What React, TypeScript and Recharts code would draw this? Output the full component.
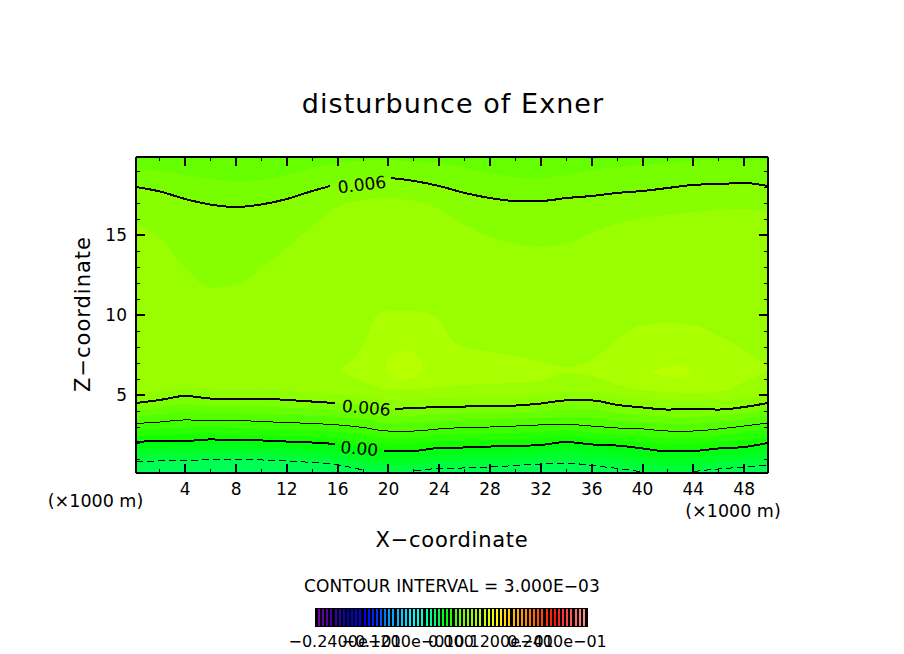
import { Area, Bar, BarChart, Cell, ComposedChart, Line, ReferenceDot, XAxis, YAxis } from "recharts";

const gridX = [0.125, 2, 4, 6, 8, 10, 12, 14, 16, 18, 20, 22, 24, 26, 28, 30, 32, 34, 36, 38, 40, 42, 44, 46, 48, 49.875];
const xTicks = [2, 4, 6, 8, 10, 12, 14, 16, 18, 20, 22, 24, 26, 28, 30, 32, 34, 36, 38, 40, 42, 44, 46, 48];
const yTicks = [1, 2, 3, 4, 5, 6, 7, 8, 9, 10, 11, 12, 13, 14, 15, 16, 17, 18, 19];
const Z_MIN = 0.125;
const Z_MAX = 19.875;

// contour lines, z in km at each gridX
const lineTop = [18, 17.72, 17.25, 16.9, 16.75, 16.91, 17.25, 17.75, 18.25, 18.5, 18.56, 18.38, 18.06, 17.63, 17.31, 17.13, 17.13, 17.31, 17.44, 17.63, 17.75, 17.94, 18.13, 18.19, 18.25, 18.06];
const line006 = [4.5, 4.69, 4.94, 4.78, 4.75, 4.78, 4.69, 4.59, 4.5, 4.38, 4.13, 4.19, 4.25, 4.28, 4.31, 4.34, 4.47, 4.66, 4.66, 4.38, 4.22, 4.09, 4.13, 4.09, 4.25, 4.5];
const line003 = [3.22, 3.31, 3.44, 3.41, 3.41, 3.34, 3.28, 3.22, 3.13, 2.97, 2.75, 2.75, 2.88, 2.97, 3.0, 3.06, 3.13, 3.16, 3.06, 2.94, 2.88, 2.75, 2.75, 2.88, 3.06, 3.25];
const line000 = [2.06, 2.13, 2.13, 2.22, 2.19, 2.16, 2.09, 2.03, 1.94, 1.69, 1.47, 1.5, 1.69, 1.72, 1.78, 1.81, 1.88, 2.06, 1.91, 1.84, 1.66, 1.47, 1.5, 1.66, 1.75, 2.0];
const lineNeg = [0.81, 0.88, 0.89, 0.97, 0.97, 0.94, 0.88, 0.78, 0.63, 0.31, null, 0.25, 0.41, 0.44, 0.5, 0.59, 0.69, 0.75, 0.59, 0.41, 0.19, null, 0.22, 0.38, 0.5, 0.63];

// shading edges between the contour lines
const edgeT1 = [19.19, 19, 18.75, 18.5, 18.38, 18.44, 18.75, 19.19, 19.5, 19.63, 19.69, 19.56, 19.5, 19.19, 18.88, 18.63, 18.56, 18.75, 19.06, 19.25, 19.38, 19.5, 19.63, 19.69, 19.69, 19.63];
const edgeT2 = [15.75, 14.81, 12.94, 11.69, 11.88, 12.94, 14.19, 15.56, 16.75, 17.19, 17.31, 17.13, 16.63, 15.63, 14.88, 14.44, 14.25, 14.44, 15.13, 15.69, 16.06, 16.25, 16.44, 16.56, 16.63, 16.38];
const edgeU1 = [5.05, 5.25, 5.5, 5.35, 5.3, 5.35, 5.25, 5.15, 5.05, 4.95, 4.7, 4.75, 4.8, 4.85, 4.9, 4.9, 5.05, 5.2, 5.2, 4.95, 4.8, 4.65, 4.7, 4.65, 4.8, 5.05];
const edgeM1 = [4.05, 4.2, 4.45, 4.3, 4.3, 4.3, 4.2, 4.15, 4.05, 3.9, 3.65, 3.7, 3.8, 3.85, 3.85, 3.9, 4.0, 4.15, 4.15, 3.9, 3.75, 3.65, 3.65, 3.7, 3.85, 4.1];
const edgeM2 = [3.65, 3.75, 3.95, 3.85, 3.85, 3.8, 3.75, 3.7, 3.6, 3.45, 3.2, 3.25, 3.35, 3.4, 3.45, 3.5, 3.55, 3.65, 3.6, 3.4, 3.3, 3.2, 3.2, 3.3, 3.45, 3.7];
const edgeM3 = [2.8, 2.9, 2.95, 3.0, 2.95, 2.9, 2.85, 2.8, 2.7, 2.55, 2.3, 2.35, 2.5, 2.55, 2.6, 2.65, 2.7, 2.8, 2.65, 2.55, 2.45, 2.3, 2.35, 2.45, 2.65, 2.85];
const edgeM4 = [2.45, 2.5, 2.55, 2.6, 2.55, 2.5, 2.45, 2.4, 2.3, 2.1, 1.9, 1.95, 2.1, 2.15, 2.2, 2.25, 2.3, 2.45, 2.3, 2.2, 2.05, 1.9, 1.95, 2.05, 2.2, 2.4];
const edgeM5 = [1.65, 1.7, 1.75, 1.8, 1.75, 1.7, 1.65, 1.55, 1.45, 1.2, 1.0, 1.05, 1.25, 1.3, 1.35, 1.4, 1.5, 1.6, 1.45, 1.35, 1.15, 1.0, 1.05, 1.2, 1.35, 1.55];
const edgeM6 = [1.25, 1.3, 1.3, 1.4, 1.35, 1.3, 1.25, 1.15, 1.05, 0.75, 0.6, 0.65, 0.85, 0.9, 0.95, 1.0, 1.1, 1.2, 1.05, 0.9, 0.7, 0.55, 0.6, 0.8, 0.95, 1.1];

// closed patches of higher values
const patchX = [16, 18, 19, 20, 22, 24, 25, 26, 28, 30, 32, 34, 36, 38, 40, 42, 44, 46, 48, 49.875];
const patchHigh = [6.56, 8.13, 9.88, 10.25, 10.25, 9.75, 8.44, 8, 7.69, 7.44, 7.06, 6.75, 7.19, 8.44, 9.38, 9.5, 9.38, 8.69, 7.81, 6.75];
const patchLow = [6.56, 5.81, 5.56, 5.31, 5.38, 5.5, 5.56, 5.63, 5.69, 5.75, 5.88, 6.38, 6.19, 5.63, 5.31, 5.19, 5.13, 5.19, 5.81, 6.56];
const coreAX = [19.75, 20.25, 21, 22, 22.7];
const coreAHigh = [6.75, 7.5, 7.75, 7.63, 6.75];
const coreALow = [6.75, 6.13, 5.94, 6.06, 6.75];
const coreBX = [40.5, 41.8, 43, 43.9];
const coreBHigh = [6.44, 6.72, 6.88, 6.5];
const coreBLow = [6.44, 6.16, 6.06, 6.5];

const barColors = [
  "#7700aa", "#6600aa", "#5500aa", "#4400aa", "#3300aa", "#2200aa", "#1100bb", "#0000bb", "#0000cc", "#0000dd", "#0000ee", "#0000ff", "#0011ff",
  "#0022ff", "#0033ff", "#0055ff", "#0077ff", "#0099ff", "#00aaff", "#00bbff", "#00ccff", "#00ddff", "#00eeff", "#00ffff", "#00ffee", "#00ffcc",
  "#00ffaa", "#00ff88", "#00ff66", "#00ff44", "#00ff22", "#00ff00", "#22ff00", "#44ff00", "#66ff00", "#77ff00", "#88ff00", "#99ff00", "#aaff00",
  "#bbff00", "#ccff00", "#ddff00", "#eeff00", "#ffff00", "#ffee00", "#ffdd00", "#ffcc00", "#ffbb00", "#ffaa00", "#ff9900", "#ff8800", "#ff7700",
  "#ff6600", "#ff5500", "#ff4400", "#ff3300", "#ff2200", "#ff1111", "#ff2222", "#ff3333", "#ff4444", "#ff5555", "#ff6666", "#ff7777", "#ff8888",
];
const barLabels = ["−0.2400e−01", "−0.1200e−01", "0.000", "0.1200e−01", "0.2400e−01"];
const barLabelX = [345, 398, 451, 504, 557];

const FONT = "'DejaVu Sans', sans-serif";

type Row = { x: number; band: [number, number] | null };

function band(xs: number[], low: (number | null)[] | number, high: (number | null)[] | number): Row[] {
  return xs.map((x, i) => {
    const lo = typeof low === "number" ? low : low[i];
    const hi = typeof high === "number" ? high : high[i];
    return { x, band: lo == null || hi == null ? null : [lo, hi] };
  });
}

// contour with a hole where its label sits
function contourRows(values: (number | null)[], gap?: [number, number, number, number]) {
  const rows = gridX.map((x, i) => ({ x, z: values[i] }));
  if (!gap) return rows;
  const [fromX, fromZ, toX, toZ] = gap;
  return [
    ...rows.filter((r) => r.x < fromX),
    { x: fromX, z: fromZ },
    { x: (fromX + toX) / 2, z: null },
    { x: toX, z: toZ },
    ...rows.filter((r) => r.x > toX),
  ];
}

const fills: { rows: Row[]; color: string }[] = [
  { rows: band(gridX, Z_MIN, Z_MAX), color: "#99ff00" },
  { rows: band(gridX, edgeT2, Z_MAX), color: "#88ff00" },
  { rows: band(gridX, lineTop, Z_MAX), color: "#77ff00" },
  { rows: band(gridX, edgeT1, Z_MAX), color: "#66ff00" },
  { rows: band(gridX, Z_MIN, edgeU1), color: "#8cff00" },
  { rows: band(gridX, Z_MIN, line006), color: "#7aff00" },
  { rows: band(gridX, Z_MIN, edgeM1), color: "#66ff00" },
  { rows: band(gridX, Z_MIN, edgeM2), color: "#52ff00" },
  { rows: band(gridX, Z_MIN, line003), color: "#3dff00" },
  { rows: band(gridX, Z_MIN, edgeM3), color: "#28ff00" },
  { rows: band(gridX, Z_MIN, edgeM4), color: "#14ff00" },
  { rows: band(gridX, Z_MIN, line000), color: "#00ff10" },
  { rows: band(gridX, Z_MIN, edgeM5), color: "#00ff24" },
  { rows: band(gridX, Z_MIN, edgeM6), color: "#00ff3a" },
  { rows: band(gridX, Z_MIN, lineNeg), color: "#00ff55" },
  { rows: band(patchX, patchLow, patchHigh), color: "#aaff00" },
  { rows: band(coreAX, coreALow, coreAHigh), color: "#b8ff00" },
  { rows: band(coreBX, coreBLow, coreBHigh), color: "#b8ff00" },
];

const contours = [
  { rows: contourRows(lineTop, [15.4, 18.06, 20.2, 18.56]), width: 2, dash: undefined },
  { rows: contourRows(line006, [15.8, 4.5, 20.5, 4.13]), width: 2, dash: undefined },
  { rows: contourRows(line003), width: 1, dash: undefined },
  { rows: contourRows(line000, [15.8, 1.94, 19.65, 1.47]), width: 2, dash: undefined },
  { rows: contourRows(lineNeg), width: 1, dash: "7 4" },
];

const contourLabels = [
  { x: 17.9, z: 18.15, text: "0.006", angle: -7 },
  { x: 18.25, z: 4.2, text: "0.006", angle: 5 },
  { x: 17.7, z: 1.65, text: "0.00", angle: 5 },
];

function XTick({ x, y, payload, dir, labelled }: any) {
  const major = payload.value % 4 === 0;
  const len = major ? 9 : 4;
  return (
    <g>
      <line x1={x} x2={x} y1={y} y2={y + dir * len} stroke="#000" strokeWidth={major ? 2 : 1} />
      {labelled && major && (
        <text x={x} y={y + 22} textAnchor="middle" fontFamily={FONT} fontSize={17} fill="#000">
          {payload.value}
        </text>
      )}
    </g>
  );
}

function YTick({ x, y, payload, dir, labelled }: any) {
  const major = payload.value % 5 === 0;
  const len = major ? 9 : 4;
  return (
    <g>
      <line x1={x} x2={x + dir * len} y1={y} y2={y} stroke="#000" strokeWidth={major ? 2 : 1} />
      {labelled && major && (
        <text x={x - 9} y={y + 6} textAnchor="end" fontFamily={FONT} fontSize={17} fill="#000">
          {payload.value}
        </text>
      )}
    </g>
  );
}

const axisLine = { stroke: "#000", strokeWidth: 2 };
const xDomain: [number, number] = [0.125, 49.875];
const yDomain: [number, number] = [Z_MIN, Z_MAX];

export default function App() {
  return (
    <div style={{ position: "absolute", left: 0, top: 0, width: 904, height: 654, background: "#fff", shapeRendering: "crispEdges" }}>
      <ComposedChart
        width={904}
        height={654}
        margin={{ top: 156, right: 135, bottom: 180, left: 135 }}
      >
        {fills.map((f, i) => (
          <Area key={i} data={f.rows} dataKey="band" type="monotoneX" fill={f.color} fillOpacity={1} stroke="none" connectNulls dot={false} activeDot={false} isAnimationActive={false} />
        ))}
        {contours.map((c, i) => (
          <Line key={i} data={c.rows} dataKey="z" type="monotoneX" stroke="#000" strokeWidth={c.width} strokeDasharray={c.dash} dot={false} activeDot={false} isAnimationActive={false} />
        ))}
        <XAxis type="number" dataKey="x" domain={xDomain} ticks={xTicks} interval={0} height={1} tickSize={0} tickMargin={0} allowDataOverflow axisLine={axisLine} tick={(p: any) => <XTick {...p} dir={-1} labelled />} />
        <XAxis xAxisId="top" orientation="top" type="number" dataKey="x" domain={xDomain} ticks={xTicks} interval={0} height={1} tickSize={0} tickMargin={0} allowDataOverflow axisLine={axisLine} tick={(p: any) => <XTick {...p} dir={1} />} />
        <YAxis type="number" domain={yDomain} ticks={yTicks} interval={0} width={1} tickSize={0} tickMargin={0} allowDataOverflow axisLine={axisLine} tick={(p: any) => <YTick {...p} dir={1} labelled />} />
        <YAxis yAxisId="right" orientation="right" type="number" domain={yDomain} ticks={yTicks} interval={0} width={1} tickSize={0} tickMargin={0} allowDataOverflow axisLine={axisLine} tick={(p: any) => <YTick {...p} dir={-1} />} />
        {contourLabels.map((l) => (
          <ReferenceDot
            key={l.z}
            x={l.x}
            y={l.z}
            r={0}
            ifOverflow="visible"
            shape={(p: any) => (
              <text x={p.cx} y={p.cy} transform={`rotate(${l.angle} ${p.cx} ${p.cy})`} textAnchor="middle" dominantBaseline="central" fontFamily={FONT} fontSize={17} fill="#000">
                {l.text}
              </text>
            )}
          />
        ))}
      </ComposedChart>

      <svg width={904} height={654} style={{ position: "absolute", left: 0, top: 0, pointerEvents: "none" }} fontFamily={FONT} fill="#000">
        <text x={453} y={113} textAnchor="middle" fontSize={27} letterSpacing={1.05}>disturbunce of Exner</text>
        <text x={452} y={547} textAnchor="middle" fontSize={21} letterSpacing={0.75}>X−coordinate</text>
        <text transform="translate(90 314) rotate(-90)" textAnchor="middle" fontSize={21} letterSpacing={1}>Z−coordinate</text>
        <text x={95.5} y={507} textAnchor="middle" fontSize={17.5}>(×1000 m)</text>
        <text x={733} y={517} textAnchor="middle" fontSize={17.5}>(×1000 m)</text>
        <text x={452} y={592} textAnchor="middle" fontSize={17} letterSpacing={0.1}>CONTOUR INTERVAL = 3.000E−03</text>
        {barLabels.map((t, i) => (
          <text key={t} x={barLabelX[i]} y={647} textAnchor="middle" fontSize={16}>{t}</text>
        ))}
      </svg>

      <div style={{ position: "absolute", left: 315, top: 608, width: 273, height: 19, background: "#000" }}>
        <BarChart
          width={269}
          height={17}
          data={barColors.map((c, i) => ({ level: i, v: 1 }))}
          margin={{ top: 0, right: 0, bottom: 0, left: 0 }}
          style={{ position: "absolute", left: 2, top: 1 }}
        >
          <XAxis dataKey="level" hide />
          <YAxis hide domain={[0, 1]} />
          <Bar dataKey="v" barSize={2} isAnimationActive={false}>
            {barColors.map((c, i) => (
              <Cell key={i} fill={c} />
            ))}
          </Bar>
        </BarChart>
      </div>
    </div>
  );
}
